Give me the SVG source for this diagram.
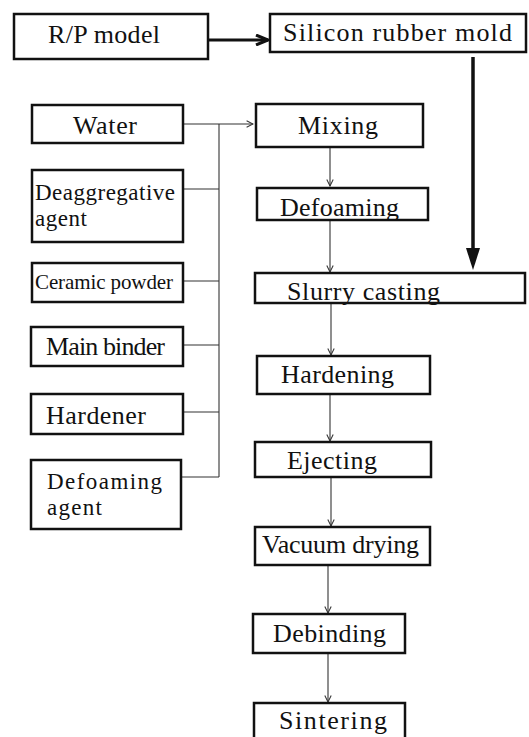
<svg xmlns="http://www.w3.org/2000/svg" width="529" height="737" viewBox="0 0 529 737">
<defs>
<style>
.box{fill:#fff;stroke:#111;stroke-width:2.5}
.t{font-family:'Liberation Serif','DejaVu Serif',serif;font-size:26px;fill:#111}
.t2{font-size:23px}
.thin{fill:none;stroke:#333;stroke-width:1.1}
.thick{fill:none;stroke:#111;stroke-width:3}
</style>
<marker id="open" viewBox="0 0 10 10" refX="9" refY="5" markerWidth="8" markerHeight="8" markerUnits="userSpaceOnUse" orient="auto">
<path d="M1,1 L9,5 L1,9" fill="none" stroke="#333" stroke-width="1.3"/>
</marker>
<marker id="openThick" viewBox="0 0 14 12" refX="13" refY="6" markerWidth="14" markerHeight="12" markerUnits="userSpaceOnUse" orient="auto">
<path d="M1,1 L13,6 L1,11" fill="none" stroke="#111" stroke-width="3"/>
</marker>
</defs>

<g id="connectors">
<line class="thick" x1="208" y1="40" x2="268" y2="40" marker-end="url(#openThick)"/>
<line x1="473" y1="57" x2="473" y2="248" stroke="#111" stroke-width="3.5"/>
<path d="M466,248 L480,248 L473,270 Z" fill="#111"/>
<line class="thin" x1="183" y1="124" x2="253" y2="124" marker-end="url(#open)"/>
<line class="thin" x1="219" y1="124" x2="219" y2="477"/>
<line class="thin" x1="183" y1="189" x2="219" y2="189"/>
<line class="thin" x1="183" y1="281" x2="219" y2="281"/>
<line class="thin" x1="183" y1="345" x2="219" y2="345"/>
<line class="thin" x1="183" y1="412" x2="219" y2="412"/>
<line class="thin" x1="181" y1="477" x2="219" y2="477"/>
<line class="thin" x1="330" y1="147" x2="330" y2="186" marker-end="url(#open)"/>
<line class="thin" x1="330" y1="220" x2="330" y2="272" marker-end="url(#open)"/>
<line class="thin" x1="331" y1="303" x2="331" y2="355" marker-end="url(#open)"/>
<line class="thin" x1="330" y1="394" x2="330" y2="441" marker-end="url(#open)"/>
<line class="thin" x1="331" y1="477" x2="331" y2="526" marker-end="url(#open)"/>
<line class="thin" x1="328" y1="565" x2="328" y2="613" marker-end="url(#open)"/>
<line class="thin" x1="328" y1="653" x2="328" y2="702" marker-end="url(#open)"/>
</g>

<g id="rp-model"><rect class="box" x="14" y="14" width="194" height="45"/><text class="t" x="48" y="43" textLength="112">R/P model</text></g>
<g id="silicon-rubber-mold"><rect class="box" x="270" y="14" width="256" height="38"/><text class="t" x="283" y="41" textLength="229">Silicon rubber mold</text></g>

<g id="water"><rect class="box" x="32" y="105" width="151" height="38"/><text class="t" x="73" y="134" textLength="64">Water</text></g>
<g id="deaggregative-agent"><rect class="box" x="32" y="170" width="151" height="72"/><text class="t t2" x="35" y="200" textLength="140">Deaggregative</text><text class="t t2" x="35" y="226" textLength="52">agent</text></g>
<g id="ceramic-powder"><rect class="box" x="32" y="263" width="151" height="39"/><text class="t" x="35" y="289" style="font-size:21px" textLength="138">Ceramic powder</text></g>
<g id="main-binder"><rect class="box" x="31" y="327" width="152" height="39"/><text class="t" x="46" y="355" textLength="119">Main binder</text></g>
<g id="hardener"><rect class="box" x="31" y="394" width="152" height="40"/><text class="t" x="46" y="424" textLength="100">Hardener</text></g>
<g id="defoaming-agent"><rect class="box" x="31" y="460" width="150" height="69"/><text class="t t2" x="47" y="489" textLength="115">Defoaming</text><text class="t t2" x="47" y="515" textLength="55">agent</text></g>

<g id="mixing"><rect class="box" x="256" y="104" width="167" height="43"/><text class="t" x="298" y="134" textLength="80">Mixing</text></g>
<g id="defoaming"><rect class="box" x="257" y="188" width="171" height="32"/><text class="t" x="280" y="216" textLength="119">Defoaming</text></g>
<g id="slurry-casting"><rect class="box" x="255" y="273" width="270" height="30"/><text class="t" x="287" y="300" textLength="153">Slurry casting</text></g>
<g id="hardening"><rect class="box" x="257" y="356" width="173" height="38"/><text class="t" x="281" y="383" textLength="113">Hardening</text></g>
<g id="ejecting"><rect class="box" x="255" y="442" width="176" height="35"/><text class="t" x="287" y="469" textLength="90">Ejecting</text></g>
<g id="vacuum-drying"><rect class="box" x="255" y="527" width="175" height="38"/><text class="t" x="262" y="553" textLength="157">Vacuum drying</text></g>
<g id="debinding"><rect class="box" x="253" y="614" width="152" height="39"/><text class="t" x="273" y="642" textLength="113">Debinding</text></g>
<g id="sintering"><rect class="box" x="254" y="703" width="151" height="40"/><text class="t" x="279" y="729" textLength="108">Sintering</text></g>
</svg>
